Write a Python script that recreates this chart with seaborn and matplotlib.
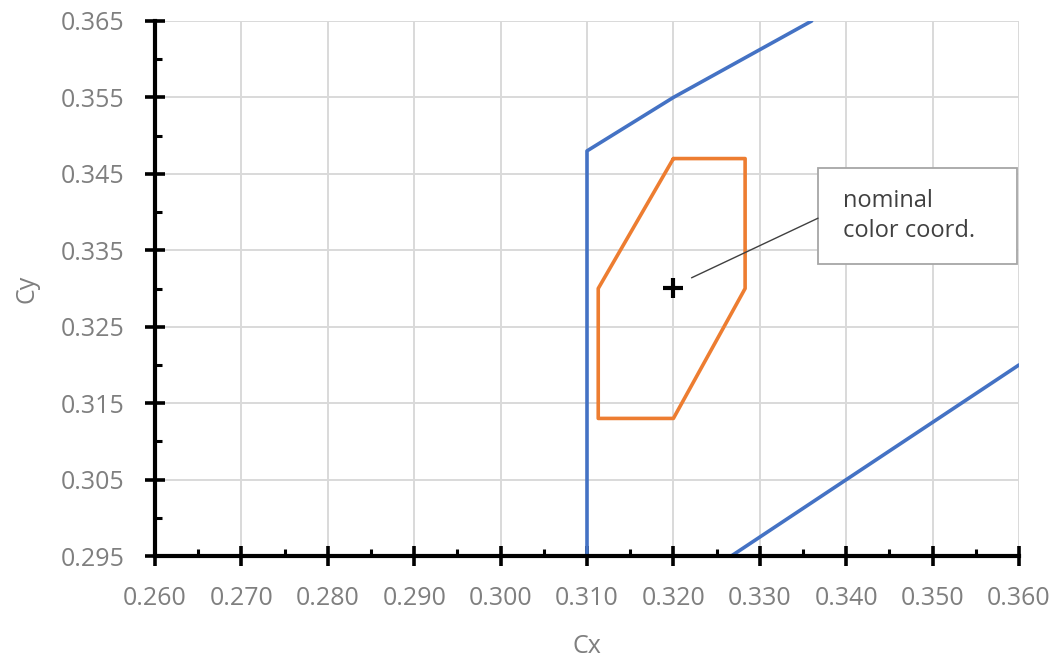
import matplotlib.pyplot as plt
import matplotlib.patches as mpatches
import seaborn as sns
import pandas as pd
from matplotlib.ticker import MultipleLocator, FormatStrFormatter

# blue boundary, upper-left piece
blue1_x = [0.310, 0.310, 0.320, 0.336]
blue1_y = [0.295, 0.348, 0.355, 0.365]
# blue boundary, lower-right piece
blue2_x = [0.3267, 0.360]
blue2_y = [0.295, 0.320]
# orange tolerance polygon (closed)
orange_x = [0.320, 0.3283, 0.3283, 0.320, 0.3113, 0.3113, 0.320]
orange_y = [0.347, 0.347, 0.330, 0.313, 0.313, 0.330, 0.347]
# nominal colour coordinate
nom_x = [0.320]
nom_y = [0.330]
note = "nominal\ncolor coord."

sns.set_style("white")
plt.rcParams['font.family'] = ['Open Sans', 'DejaVu Sans']

fig = plt.figure(figsize=(10.59, 6.66), dpi=100)
ax = fig.add_axes([155/1059, 1 - 556/666, 864/1059, 535/666])

blue = '#4472c4'
orange = '#ed7d31'
sns.lineplot(x=blue1_x, y=blue1_y, sort=False, estimator=None, color=blue, lw=2.6, ax=ax)
sns.lineplot(x=blue2_x, y=blue2_y, sort=False, estimator=None, color=blue, lw=2.6, ax=ax)
sns.lineplot(x=orange_x, y=orange_y, sort=False, estimator=None, color=orange, lw=2.6, ax=ax)
sns.scatterplot(x=nom_x, y=nom_y, marker='+', s=220, color='black', linewidth=3, ax=ax, zorder=5)

ax.set_xlim(0.260, 0.360)
ax.set_ylim(0.295, 0.365)
ax.xaxis.set_major_locator(MultipleLocator(0.010))
ax.xaxis.set_minor_locator(MultipleLocator(0.005))
ax.set_yticks([0.295, 0.305, 0.315, 0.325, 0.335, 0.345, 0.355, 0.365])
ax.yaxis.set_minor_locator(MultipleLocator(0.010))
ax.xaxis.set_major_formatter(FormatStrFormatter('%.3f'))
ax.yaxis.set_major_formatter(FormatStrFormatter('%.3f'))

ax.grid(True, which='major', color='#d9d9d9', lw=1.4)
ax.set_axisbelow(True)
for s in ['top', 'right']:
    ax.spines[s].set_visible(False)
for s in ['left', 'bottom']:
    ax.spines[s].set_color('black')
    ax.spines[s].set_linewidth(3.0)

ax.tick_params(which='both', bottom=True, left=True)
ax.tick_params(which='major', direction='inout', length=14, width=2.6, color='black',
               labelsize=18, labelcolor='#7f7f7f')
ax.tick_params(axis='x', which='major', pad=14.5)
ax.tick_params(axis='y', which='major', pad=15)
ax.tick_params(which='minor', direction='in', length=5, width=2.2, color='black')

ax.set_xlabel('Cx', fontsize=18, color='#7f7f7f', labelpad=17)
ax.set_ylabel('Cy', fontsize=18, color='#7f7f7f', labelpad=15.5)

# callout box
box = mpatches.Rectangle((0.33674, 0.33320), 0.0230, 0.01257, facecolor='white',
                         edgecolor='#a6a6a6', lw=1.3, zorder=6, clip_on=False)
ax.add_patch(box)
ax.text(0.3396, 0.3395, note, fontsize=17, color='#404040', va='center', ha='left',
        linespacing=1.3, zorder=7)
ax.plot([0.3221, 0.33674], [0.3314, 0.3392], color='#404040', lw=1.0, zorder=6)

fig.savefig('out.png', dpi=100)
